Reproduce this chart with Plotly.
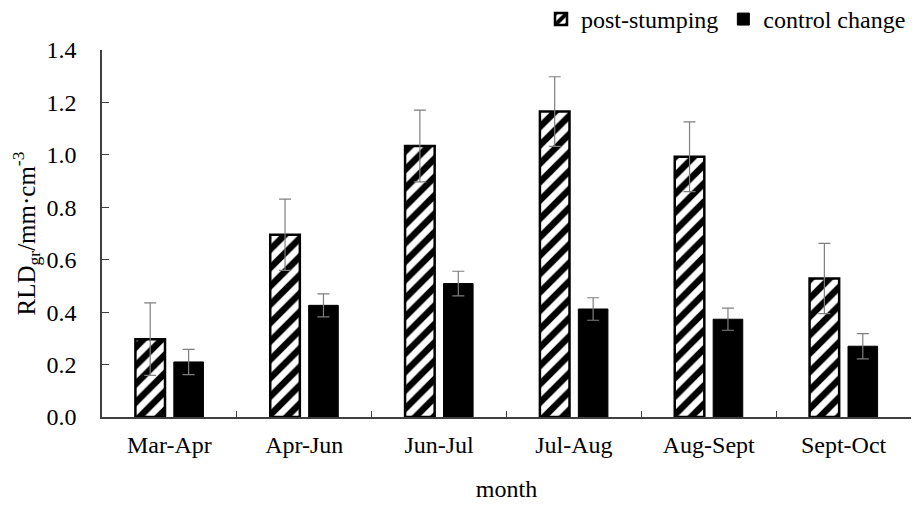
import plotly.graph_objects as go

categories = ["Mar-Apr", "Apr-Jun", "Jun-Jul", "Jul-Aug", "Aug-Sept", "Sept-Oct"]
post_stumping = [0.297, 0.695, 1.034, 1.165, 0.993, 0.528]
post_err = [0.138, 0.136, 0.137, 0.133, 0.133, 0.134]
control_change = [0.210, 0.426, 0.509, 0.412, 0.373, 0.270]
control_err = [0.048, 0.044, 0.047, 0.043, 0.042, 0.048]
y_ticks = [0.0, 0.2, 0.4, 0.6, 0.8, 1.0, 1.2, 1.4]

FONT = "Liberation Serif"
AX = "#404040"
FS = 24

fig = go.Figure()
fig.add_trace(go.Bar(
    name="post-stumping", x=categories, y=post_stumping,
    marker=dict(color="white", line=dict(color="black", width=2.5),
                pattern=dict(shape="/", fgcolor="black", bgcolor="white",
                             fgopacity=1, fillmode="replace",
                             size=13, solidity=0.5)),
    error_y=dict(type="data", array=post_err, color="#7f7f7f",
                 thickness=1.2, width=6),
))
fig.add_trace(go.Bar(
    name="control change", x=categories, y=control_change,
    marker=dict(color="black", line=dict(color="black", width=1)),
    error_y=dict(type="data", array=control_err, color="#7f7f7f",
                 thickness=1.2, width=6),
))

# page body adds an 8px offset, so the figure is sized to compensate
fig.update_layout(
    width=913, height=499,
    margin=dict(l=94, r=10, t=42, b=90, autoexpand=False),
    paper_bgcolor="white", plot_bgcolor="white",
    barmode="group", bargap=0.43, bargroupgap=0.23,
    font=dict(family=FONT, size=FS, color="black"),
    showlegend=True,
    legend=dict(orientation="h", x=1.0, xanchor="right",
                y=0.977, yanchor="middle", yref="container",
                font=dict(family=FONT, size=FS), itemwidth=30,
                traceorder="normal", bgcolor="rgba(0,0,0,0)"),
    xaxis=dict(
        title=dict(text="month", font=dict(family=FONT, size=FS), standoff=24),
        showline=True, linecolor=AX, linewidth=1.5,
        ticks="inside", ticklen=6, tickcolor=AX, tickson="boundaries",
        showgrid=False, zeroline=False, automargin=False,
        tickfont=dict(family=FONT, size=FS), ticklabelstandoff=5,
    ),
    yaxis=dict(
        title=dict(text="RLD<sub>gr</sub>/mm·cm<sup>-3</sup>",
                   font=dict(family=FONT, size=25), standoff=5),
        range=[0, 1.4], tickvals=y_ticks,
        ticktext=[f"{v:.1f}" for v in y_ticks],
        showline=True, linecolor=AX, linewidth=1.5,
        ticks="inside", ticklen=7, tickcolor=AX,
        showgrid=False, zeroline=False, automargin=False,
        tickfont=dict(family=FONT, size=FS), ticklabelstandoff=19,
    ),
)

fig.write_html("out.html")
